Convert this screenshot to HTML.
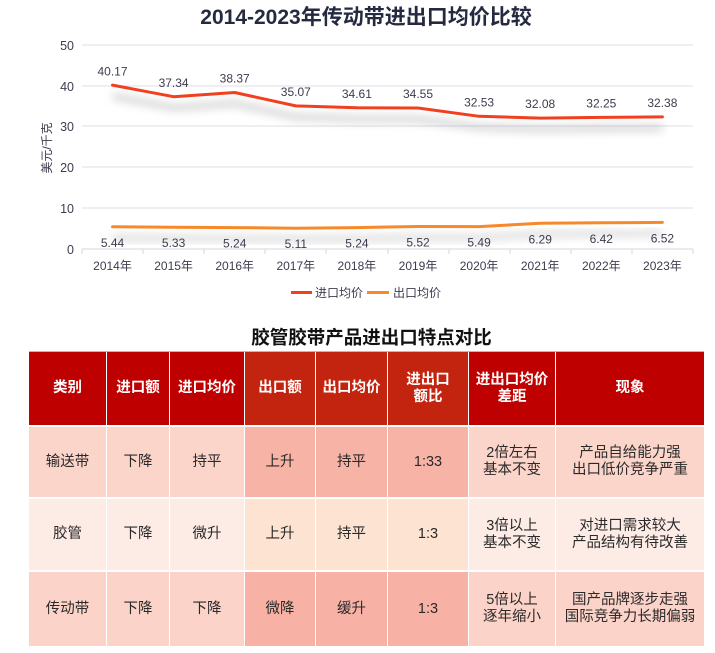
<!DOCTYPE html>
<html><head><meta charset="utf-8">
<style>
html,body{margin:0;padding:0;background:#fff;}
body{width:715px;height:653px;position:relative;overflow:hidden;font-family:"Liberation Sans","Noto Sans CJK SC",sans-serif;}
.c{position:absolute;display:flex;align-items:center;justify-content:center;text-align:center;font-size:14.5px;line-height:17px;color:#2a2a2a;}
.h{color:#fff;font-weight:bold;font-size:14.5px;}
.t2{position:absolute;left:29px;width:685px;top:324px;text-align:center;font-weight:bold;font-size:18.5px;color:#111;}
</style></head><body>
<svg width="715" height="310" style="position:absolute;left:0;top:0" font-family="Liberation Sans, Noto Sans CJK SC, sans-serif">
<defs>
<filter id="b" x="-10%" y="-100%" width="120%" height="300%"><feGaussianBlur stdDeviation="4.5"/></filter>
</defs>
<text x="366" y="24" text-anchor="middle" font-size="21" font-weight="bold" fill="#252a40">2014-2023年传动带进出口均价比较</text>
<g stroke="#dedde9" stroke-width="1">
<line x1="82" y1="45" x2="693" y2="45"/>
<line x1="82" y1="86" x2="693" y2="86"/>
<line x1="82" y1="126" x2="693" y2="126"/>
<line x1="82" y1="167" x2="693" y2="167"/>
<line x1="82" y1="208" x2="693" y2="208"/>
</g>
<g stroke="#d4d4e0" stroke-width="1">
<line x1="82" y1="249" x2="693" y2="249"/>
<line x1="82" y1="249" x2="82" y2="254"/><line x1="143" y1="249" x2="143" y2="254"/><line x1="204" y1="249" x2="204" y2="254"/><line x1="265" y1="249" x2="265" y2="254"/><line x1="326" y1="249" x2="326" y2="254"/><line x1="388" y1="249" x2="388" y2="254"/><line x1="449" y1="249" x2="449" y2="254"/><line x1="510" y1="249" x2="510" y2="254"/><line x1="571" y1="249" x2="571" y2="254"/><line x1="632" y1="249" x2="632" y2="254"/><line x1="693" y1="249" x2="693" y2="254"/>
</g>
<g font-size="12.5" fill="#3c3c4e" text-anchor="end">
<text x="74" y="50">50</text><text x="74" y="91">40</text><text x="74" y="131">30</text><text x="74" y="172">20</text><text x="74" y="213">10</text><text x="74" y="254">0</text>
</g>
<text transform="translate(51,148) rotate(-90)" text-anchor="middle" font-size="12" fill="#3c3c4e">美元/千克</text>
<g font-size="12" fill="#3c3c4e" text-anchor="middle">
<text x="112.5" y="270">2014年</text><text x="173.6" y="270">2015年</text><text x="234.7" y="270">2016年</text><text x="295.8" y="270">2017年</text><text x="356.9" y="270">2018年</text><text x="418" y="270">2019年</text><text x="479.1" y="270">2020年</text><text x="540.2" y="270">2021年</text><text x="601.3" y="270">2022年</text><text x="662.4" y="270">2023年</text>
</g>
<polyline transform="translate(0,11)" filter="url(#b)" fill="none" stroke="#000" stroke-opacity="0.18" stroke-width="6" points="112.5,85.1 173.6,96.7 234.7,92.5 295.8,105.9 356.9,107.8 418,108 479.1,116.3 540.2,118.1 601.3,117.4 662.4,116.9"/>
<polyline transform="translate(0,11)" filter="url(#b)" fill="none" stroke="#000" stroke-opacity="0.15" stroke-width="6" points="112.5,226.8 173.6,227.3 234.7,227.6 295.8,228.2 356.9,227.6 418,226.5 479.1,226.6 540.2,223.3 601.3,222.8 662.4,222.4"/>
<polyline fill="none" stroke="#f0401f" stroke-width="3" stroke-linejoin="round" stroke-linecap="round" points="112.5,85.1 173.6,96.7 234.7,92.5 295.8,105.9 356.9,107.8 418,108 479.1,116.3 540.2,118.1 601.3,117.4 662.4,116.9"/>
<polyline fill="none" stroke="#f8892a" stroke-width="3" stroke-linejoin="round" stroke-linecap="round" points="112.5,226.8 173.6,227.3 234.7,227.6 295.8,228.2 356.9,227.6 418,226.5 479.1,226.6 540.2,223.3 601.3,222.8 662.4,222.4"/>
<g font-size="12" fill="#3c3c4e" text-anchor="middle">
<text x="112.5" y="75.5">40.17</text><text x="173.6" y="87">37.34</text><text x="234.7" y="82.5">38.37</text><text x="295.8" y="96">35.07</text><text x="356.9" y="98">34.61</text><text x="418" y="98">34.55</text><text x="479.1" y="106.5">32.53</text><text x="540.2" y="108">32.08</text><text x="601.3" y="107.5">32.25</text><text x="662.4" y="107">32.38</text>
<text x="112.5" y="247">5.44</text><text x="173.6" y="247">5.33</text><text x="234.7" y="247.5">5.24</text><text x="295.8" y="248">5.11</text><text x="356.9" y="247.5">5.24</text><text x="418" y="246.5">5.52</text><text x="479.1" y="246.5">5.49</text><text x="540.2" y="243.5">6.29</text><text x="601.3" y="243">6.42</text><text x="662.4" y="242.5">6.52</text>
</g>
<line x1="291" y1="292.5" x2="312" y2="292.5" stroke="#f0401f" stroke-width="3"/>
<text x="315" y="297" font-size="12" fill="#3c3c4e">进口均价</text>
<line x1="367" y1="292.5" x2="389" y2="292.5" stroke="#f8892a" stroke-width="3"/>
<text x="393" y="297" font-size="12" fill="#3c3c4e">出口均价</text>
</svg>

<div class="t2">胶管胶带产品进出口特点对比</div>

<div style="position:absolute;left:29px;top:351px;width:675px;height:1px;background:#e8a8a0"></div>
<div class="c h" style="left:29px;top:352px;width:77px;height:73px;background:#bf0000">类别</div>
<div class="c h" style="left:107px;top:352px;width:62px;height:73px;background:#bf0000">进口额</div>
<div class="c h" style="left:170px;top:352px;width:74px;height:73px;background:#bf0000">进口均价</div>
<div class="c h" style="left:245px;top:352px;width:70px;height:73px;background:#c2240f">出口额</div>
<div class="c h" style="left:316px;top:352px;width:71px;height:73px;background:#c2240f">出口均价</div>
<div class="c h" style="left:388px;top:352px;width:80px;height:73px;background:#c2240f">进出口<br>额比</div>
<div class="c h" style="left:469px;top:352px;width:86px;height:73px;background:#bf0000">进出口均价<br>差距</div>
<div class="c h" style="left:556px;top:352px;width:148px;height:73px;background:#bf0000">现象</div>
<div class="c" style="left:29px;top:427px;width:77px;height:70px;background:#fcd5ca">输送带</div>
<div class="c" style="left:107px;top:427px;width:62px;height:70px;background:#fcd5ca">下降</div>
<div class="c" style="left:170px;top:427px;width:74px;height:70px;background:#fcd5ca">持平</div>
<div class="c" style="left:245px;top:427px;width:70px;height:70px;background:#f8b3a7">上升</div>
<div class="c" style="left:316px;top:427px;width:71px;height:70px;background:#f8b3a7">持平</div>
<div class="c" style="left:388px;top:427px;width:80px;height:70px;background:#f8b3a7">1:33</div>
<div class="c" style="left:469px;top:427px;width:86px;height:70px;background:#fcd5ca">2倍左右<br>基本不变</div>
<div class="c" style="left:556px;top:427px;width:148px;height:70px;background:#fcd5ca">产品自给能力强<br>出口低价竞争严重</div>
<div class="c" style="left:29px;top:499px;width:77px;height:71px;background:#fdebe5">胶管</div>
<div class="c" style="left:107px;top:499px;width:62px;height:71px;background:#fdebe5">下降</div>
<div class="c" style="left:170px;top:499px;width:74px;height:71px;background:#fdebe5">微升</div>
<div class="c" style="left:245px;top:499px;width:70px;height:71px;background:#fde3d1">上升</div>
<div class="c" style="left:316px;top:499px;width:71px;height:71px;background:#fde3d1">持平</div>
<div class="c" style="left:388px;top:499px;width:80px;height:71px;background:#fde3d1">1:3</div>
<div class="c" style="left:469px;top:499px;width:86px;height:71px;background:#fdebe5">3倍以上<br>基本不变</div>
<div class="c" style="left:556px;top:499px;width:148px;height:71px;background:#fdebe5">对进口需求较大<br>产品结构有待改善</div>
<div class="c" style="left:29px;top:572px;width:77px;height:74px;background:#fcd3c8">传动带</div>
<div class="c" style="left:107px;top:572px;width:62px;height:74px;background:#fcd3c8">下降</div>
<div class="c" style="left:170px;top:572px;width:74px;height:74px;background:#fcd3c8">下降</div>
<div class="c" style="left:245px;top:572px;width:70px;height:74px;background:#f8b1a5">微降</div>
<div class="c" style="left:316px;top:572px;width:71px;height:74px;background:#f8b1a5">缓升</div>
<div class="c" style="left:388px;top:572px;width:80px;height:74px;background:#f8b1a5">1:3</div>
<div class="c" style="left:469px;top:572px;width:86px;height:74px;background:#fcd3c8">5倍以上<br>逐年缩小</div>
<div class="c" style="left:556px;top:572px;width:148px;height:74px;background:#fcd3c8">国产品牌逐步走强<br>国际竞争力长期偏弱</div>
</body></html>
